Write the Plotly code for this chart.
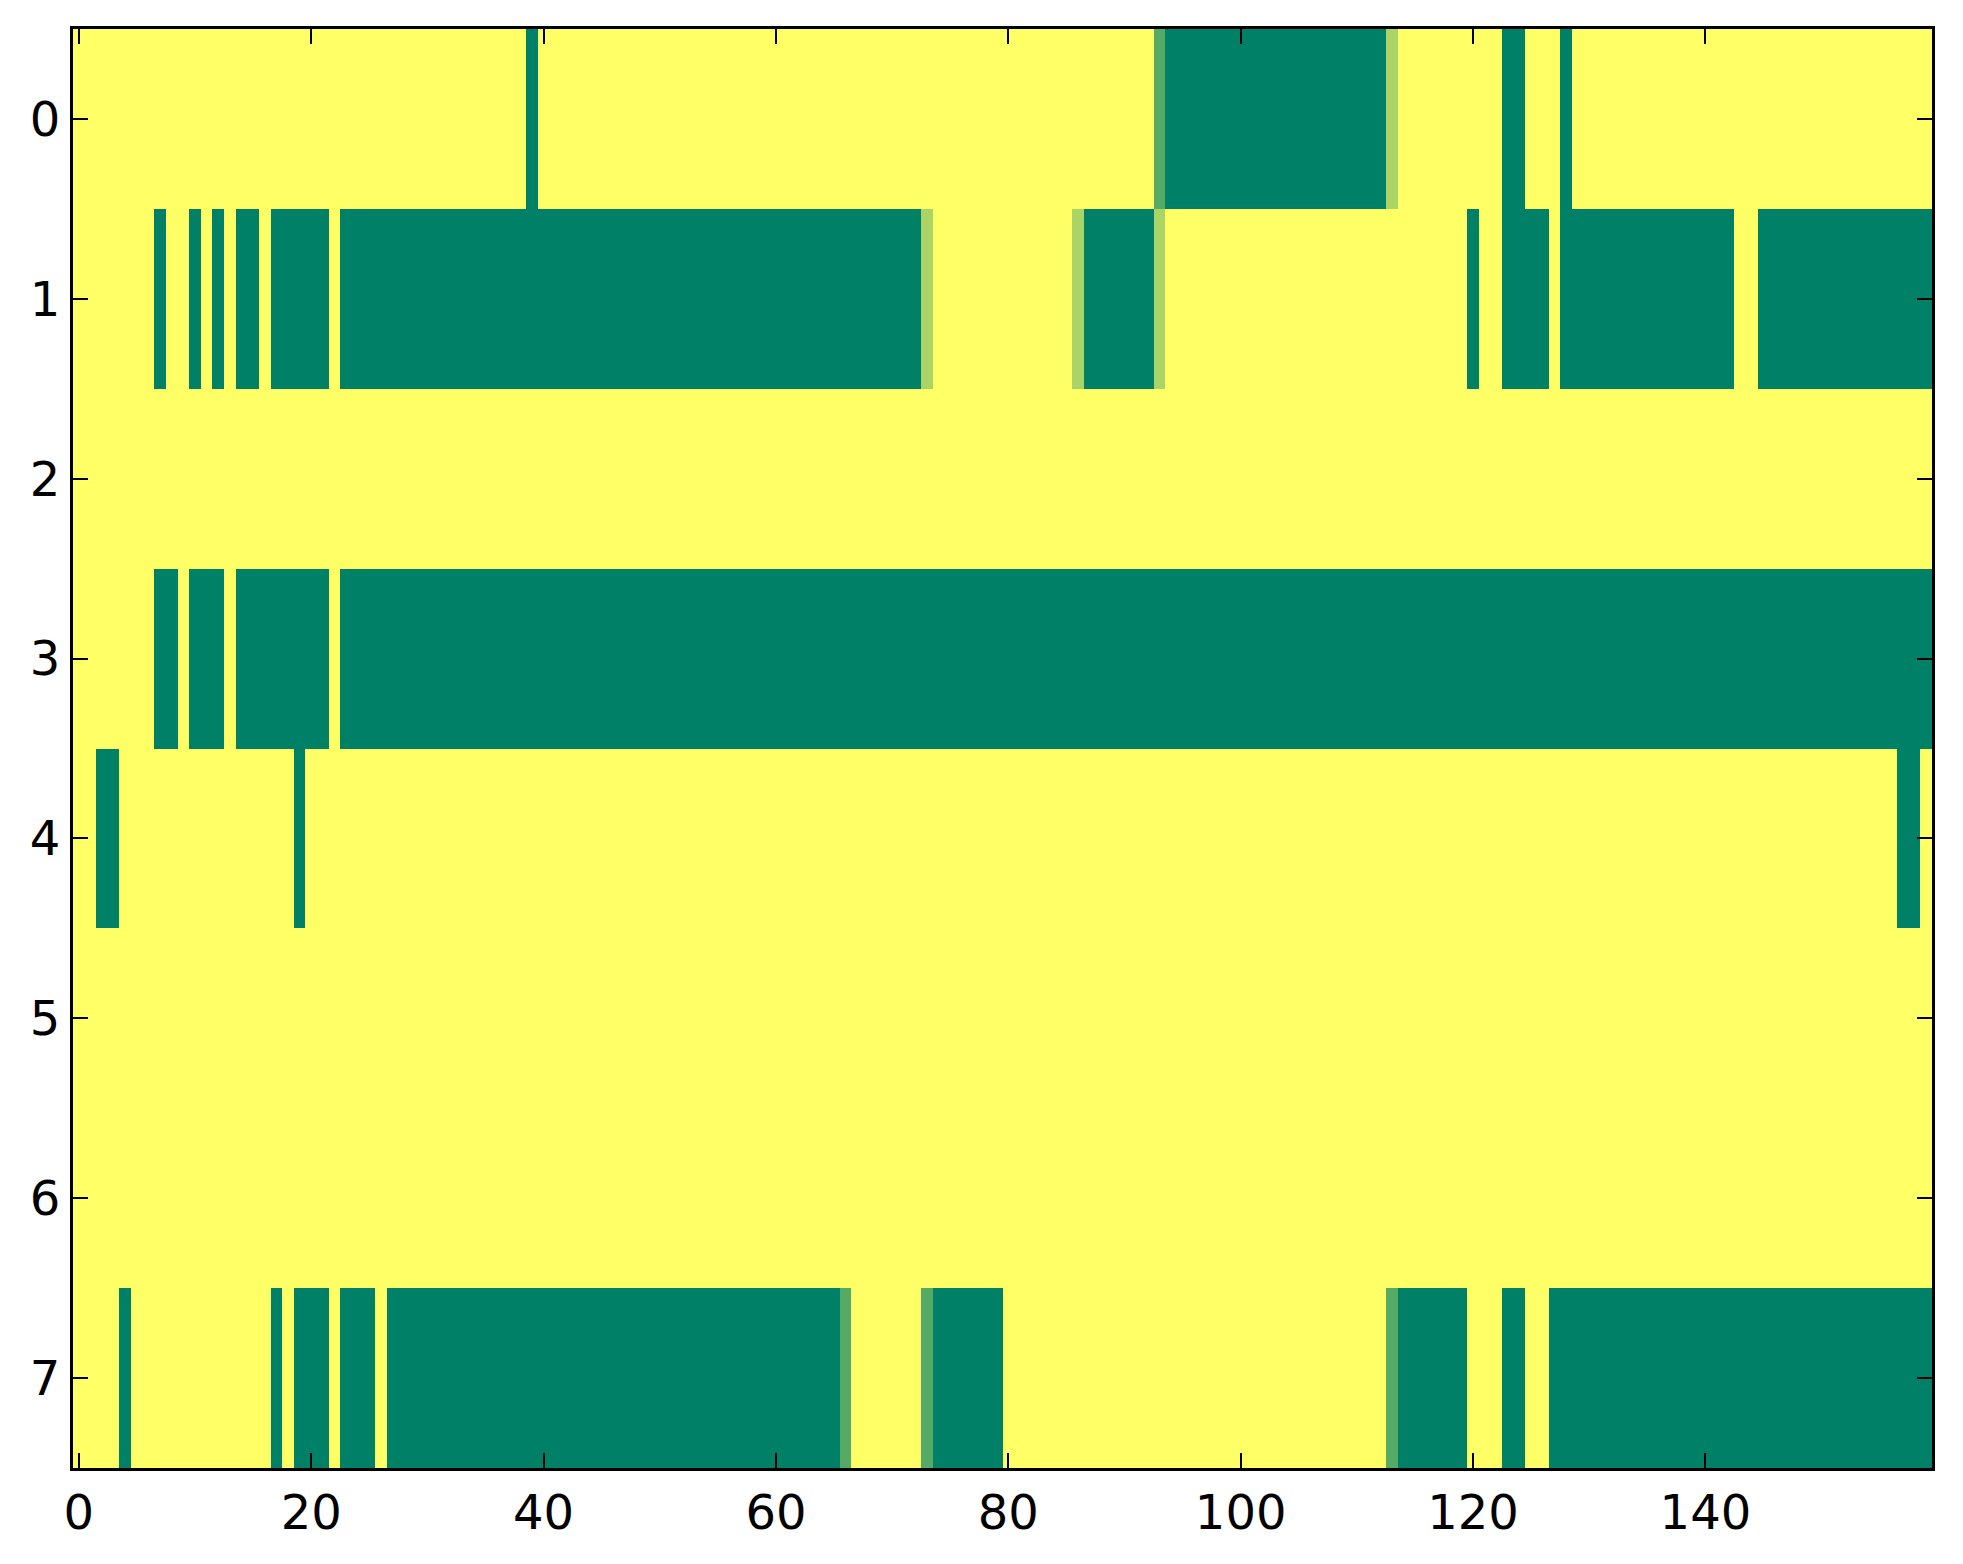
import plotly.graph_objects as go

# Tick labels
x_ticks = [0, 20, 40, 60, 80, 100, 120, 140]
y_ticks = [0, 1, 2, 3, 4, 5, 6, 7]

# Column and row indices of the grid
columns = list(range(160))
row_ids = [0, 1, 2, 3, 4, 5, 6, 7]

# Cell values per row (0 = green, 1 = yellow), 20 values per line
row_0 = [
    1, 1, 1, 1, 1, 1, 1, 1, 1, 1, 1, 1, 1, 1, 1, 1, 1, 1, 1, 1,
    1, 1, 1, 1, 1, 1, 1, 1, 1, 1, 1, 1, 1, 1, 1, 1, 1, 1, 1, 0,
    1, 1, 1, 1, 1, 1, 1, 1, 1, 1, 1, 1, 1, 1, 1, 1, 1, 1, 1, 1,
    1, 1, 1, 1, 1, 1, 1, 1, 1, 1, 1, 1, 1, 1, 1, 1, 1, 1, 1, 1,
    1, 1, 1, 1, 1, 1, 1, 1, 1, 1, 1, 1, 1, 0.333, 0, 0, 0, 0, 0, 0,
    0, 0, 0, 0, 0, 0, 0, 0, 0, 0, 0, 0, 0, 0.667, 1, 1, 1, 1, 1, 1,
    1, 1, 1, 0, 0, 1, 1, 1, 0, 1, 1, 1, 1, 1, 1, 1, 1, 1, 1, 1,
    1, 1, 1, 1, 1, 1, 1, 1, 1, 1, 1, 1, 1, 1, 1, 1, 1, 1, 1, 1,
]
row_1 = [
    1, 1, 1, 1, 1, 1, 1, 0, 1, 1, 0, 1, 0, 1, 0, 0, 1, 0, 0, 0,
    0, 0, 1, 0, 0, 0, 0, 0, 0, 0, 0, 0, 0, 0, 0, 0, 0, 0, 0, 0,
    0, 0, 0, 0, 0, 0, 0, 0, 0, 0, 0, 0, 0, 0, 0, 0, 0, 0, 0, 0,
    0, 0, 0, 0, 0, 0, 0, 0, 0, 0, 0, 0, 0, 0.667, 1, 1, 1, 1, 1, 1,
    1, 1, 1, 1, 1, 1, 0.667, 0, 0, 0, 0, 0, 0, 0.667, 1, 1, 1, 1, 1, 1,
    1, 1, 1, 1, 1, 1, 1, 1, 1, 1, 1, 1, 1, 1, 1, 1, 1, 1, 1, 1,
    0, 1, 1, 0, 0, 0, 0, 1, 0, 0, 0, 0, 0, 0, 0, 0, 0, 0, 0, 0,
    0, 0, 0, 1, 1, 0, 0, 0, 0, 0, 0, 0, 0, 0, 0, 0, 0, 0, 0, 0,
]
row_2 = [
    1, 1, 1, 1, 1, 1, 1, 1, 1, 1, 1, 1, 1, 1, 1, 1, 1, 1, 1, 1,
    1, 1, 1, 1, 1, 1, 1, 1, 1, 1, 1, 1, 1, 1, 1, 1, 1, 1, 1, 1,
    1, 1, 1, 1, 1, 1, 1, 1, 1, 1, 1, 1, 1, 1, 1, 1, 1, 1, 1, 1,
    1, 1, 1, 1, 1, 1, 1, 1, 1, 1, 1, 1, 1, 1, 1, 1, 1, 1, 1, 1,
    1, 1, 1, 1, 1, 1, 1, 1, 1, 1, 1, 1, 1, 1, 1, 1, 1, 1, 1, 1,
    1, 1, 1, 1, 1, 1, 1, 1, 1, 1, 1, 1, 1, 1, 1, 1, 1, 1, 1, 1,
    1, 1, 1, 1, 1, 1, 1, 1, 1, 1, 1, 1, 1, 1, 1, 1, 1, 1, 1, 1,
    1, 1, 1, 1, 1, 1, 1, 1, 1, 1, 1, 1, 1, 1, 1, 1, 1, 1, 1, 1,
]
row_3 = [
    1, 1, 1, 1, 1, 1, 1, 0, 0, 1, 0, 0, 0, 1, 0, 0, 0, 0, 0, 0,
    0, 0, 1, 0, 0, 0, 0, 0, 0, 0, 0, 0, 0, 0, 0, 0, 0, 0, 0, 0,
    0, 0, 0, 0, 0, 0, 0, 0, 0, 0, 0, 0, 0, 0, 0, 0, 0, 0, 0, 0,
    0, 0, 0, 0, 0, 0, 0, 0, 0, 0, 0, 0, 0, 0, 0, 0, 0, 0, 0, 0,
    0, 0, 0, 0, 0, 0, 0, 0, 0, 0, 0, 0, 0, 0, 0, 0, 0, 0, 0, 0,
    0, 0, 0, 0, 0, 0, 0, 0, 0, 0, 0, 0, 0, 0, 0, 0, 0, 0, 0, 0,
    0, 0, 0, 0, 0, 0, 0, 0, 0, 0, 0, 0, 0, 0, 0, 0, 0, 0, 0, 0,
    0, 0, 0, 0, 0, 0, 0, 0, 0, 0, 0, 0, 0, 0, 0, 0, 0, 0, 0, 0,
]
row_4 = [
    1, 1, 0, 0, 1, 1, 1, 1, 1, 1, 1, 1, 1, 1, 1, 1, 1, 1, 1, 0,
    1, 1, 1, 1, 1, 1, 1, 1, 1, 1, 1, 1, 1, 1, 1, 1, 1, 1, 1, 1,
    1, 1, 1, 1, 1, 1, 1, 1, 1, 1, 1, 1, 1, 1, 1, 1, 1, 1, 1, 1,
    1, 1, 1, 1, 1, 1, 1, 1, 1, 1, 1, 1, 1, 1, 1, 1, 1, 1, 1, 1,
    1, 1, 1, 1, 1, 1, 1, 1, 1, 1, 1, 1, 1, 1, 1, 1, 1, 1, 1, 1,
    1, 1, 1, 1, 1, 1, 1, 1, 1, 1, 1, 1, 1, 1, 1, 1, 1, 1, 1, 1,
    1, 1, 1, 1, 1, 1, 1, 1, 1, 1, 1, 1, 1, 1, 1, 1, 1, 1, 1, 1,
    1, 1, 1, 1, 1, 1, 1, 1, 1, 1, 1, 1, 1, 1, 1, 1, 1, 0, 0, 1,
]
row_5 = [
    1, 1, 1, 1, 1, 1, 1, 1, 1, 1, 1, 1, 1, 1, 1, 1, 1, 1, 1, 1,
    1, 1, 1, 1, 1, 1, 1, 1, 1, 1, 1, 1, 1, 1, 1, 1, 1, 1, 1, 1,
    1, 1, 1, 1, 1, 1, 1, 1, 1, 1, 1, 1, 1, 1, 1, 1, 1, 1, 1, 1,
    1, 1, 1, 1, 1, 1, 1, 1, 1, 1, 1, 1, 1, 1, 1, 1, 1, 1, 1, 1,
    1, 1, 1, 1, 1, 1, 1, 1, 1, 1, 1, 1, 1, 1, 1, 1, 1, 1, 1, 1,
    1, 1, 1, 1, 1, 1, 1, 1, 1, 1, 1, 1, 1, 1, 1, 1, 1, 1, 1, 1,
    1, 1, 1, 1, 1, 1, 1, 1, 1, 1, 1, 1, 1, 1, 1, 1, 1, 1, 1, 1,
    1, 1, 1, 1, 1, 1, 1, 1, 1, 1, 1, 1, 1, 1, 1, 1, 1, 1, 1, 1,
]
row_6 = [
    1, 1, 1, 1, 1, 1, 1, 1, 1, 1, 1, 1, 1, 1, 1, 1, 1, 1, 1, 1,
    1, 1, 1, 1, 1, 1, 1, 1, 1, 1, 1, 1, 1, 1, 1, 1, 1, 1, 1, 1,
    1, 1, 1, 1, 1, 1, 1, 1, 1, 1, 1, 1, 1, 1, 1, 1, 1, 1, 1, 1,
    1, 1, 1, 1, 1, 1, 1, 1, 1, 1, 1, 1, 1, 1, 1, 1, 1, 1, 1, 1,
    1, 1, 1, 1, 1, 1, 1, 1, 1, 1, 1, 1, 1, 1, 1, 1, 1, 1, 1, 1,
    1, 1, 1, 1, 1, 1, 1, 1, 1, 1, 1, 1, 1, 1, 1, 1, 1, 1, 1, 1,
    1, 1, 1, 1, 1, 1, 1, 1, 1, 1, 1, 1, 1, 1, 1, 1, 1, 1, 1, 1,
    1, 1, 1, 1, 1, 1, 1, 1, 1, 1, 1, 1, 1, 1, 1, 1, 1, 1, 1, 1,
]
row_7 = [
    1, 1, 1, 1, 0, 1, 1, 1, 1, 1, 1, 1, 1, 1, 1, 1, 1, 0, 1, 0,
    0, 0, 1, 0, 0, 0, 1, 0, 0, 0, 0, 0, 0, 0, 0, 0, 0, 0, 0, 0,
    0, 0, 0, 0, 0, 0, 0, 0, 0, 0, 0, 0, 0, 0, 0, 0, 0, 0, 0, 0,
    0, 0, 0, 0, 0, 0, 0.333, 1, 1, 1, 1, 1, 1, 0.333, 0, 0, 0, 0, 0, 0,
    1, 1, 1, 1, 1, 1, 1, 1, 1, 1, 1, 1, 1, 1, 1, 1, 1, 1, 1, 1,
    1, 1, 1, 1, 1, 1, 1, 1, 1, 1, 1, 1, 1, 0.333, 0, 0, 0, 0, 0, 0,
    1, 1, 1, 0, 0, 1, 1, 0, 0, 0, 0, 0, 0, 0, 0, 0, 0, 0, 0, 0,
    0, 0, 0, 0, 0, 0, 0, 0, 0, 0, 0, 0, 0, 0, 0, 0, 0, 0, 0, 0,
]

rows = [row_0, row_1, row_2, row_3, row_4, row_5, row_6, row_7]

# matplotlib "summer" colormap
summer = [[0.0, "rgb(0,128,102)"], [1.0, "rgb(255,255,102)"]]

fig = go.Figure(
    go.Heatmap(
        z=rows,
        x=columns,
        y=row_ids,
        colorscale=summer,
        zmin=0,
        zmax=1,
        showscale=False,
        hoverinfo="skip",
    )
)

font = dict(family="DejaVu Sans", size=48, color="black")
axis_common = dict(
    showgrid=False,
    zeroline=False,
    showline=True,
    linecolor="black",
    linewidth=3,
    mirror="ticks",
    ticks="inside",
    ticklen=15,
    tickwidth=1.5,
    tickcolor="black",
    tickfont=font,
)

# the page body has an 8px default margin, so the figure is sized to fit
fig.update_layout(
    width=1955,
    height=1556,
    margin=dict(l=65, r=31, t=21, b=96),
    paper_bgcolor="white",
    plot_bgcolor="white",
    xaxis=dict(range=[-0.5, 159.5], tickvals=x_ticks, ticktext=[str(v) for v in x_ticks], **axis_common),
    yaxis=dict(range=[7.5, -0.5], tickvals=y_ticks, ticktext=[str(v) for v in y_ticks], **axis_common),
)

fig.write_html("out.html")
